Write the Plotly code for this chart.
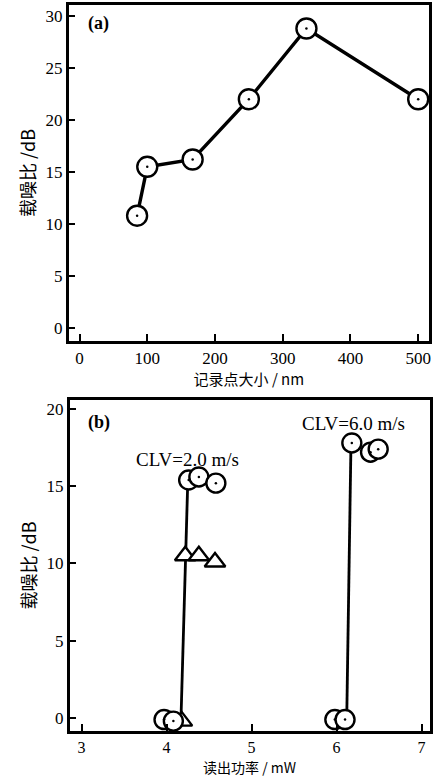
import plotly.graph_objects as go

# ---- Data: panel (a) ----
spot_size_nm = [85, 100, 167, 250, 335, 500]
cnr_a_db = [10.8, 15.5, 16.2, 22.0, 28.8, 22.0]

# ---- Data: panel (b) ----
clv2_circle_x = [3.97, 4.08, 4.26, 4.38, 4.58]
clv2_circle_y = [-0.1, -0.2, 15.4, 15.6, 15.2]
clv2_tri_x = [4.05, 4.18, 4.22, 4.38, 4.57]
clv2_tri_y = [-0.2, -0.2, 10.5, 10.5, 10.1]
clv2_line_x = [4.17, 4.22, 4.25]
clv2_line_y = [0.0, 10.0, 15.4]

clv6_circle_x = [5.98, 6.10, 6.18, 6.40, 6.49]
clv6_circle_y = [-0.1, -0.1, 17.8, 17.2, 17.4]
clv6_line_x = [6.12, 6.17]
clv6_line_y = [0.0, 17.8]

xticks_a = [0, 100, 200, 300, 400, 500]
yticks_a = [0, 5, 10, 15, 20, 25, 30]
xticks_b = [3, 4, 5, 6, 7]
yticks_b = [0, 5, 10, 15, 20]

W, H = 438, 778
SERIF = "Liberation Serif"
CJK = "Noto Sans CJK SC"

fig = go.Figure()

# panel (a)
fig.add_trace(go.Scatter(
    x=spot_size_nm, y=cnr_a_db, mode="lines+markers", xaxis="x", yaxis="y",
    line=dict(color="black", width=3.4),
    marker=dict(symbol="circle", size=20, color="white", line=dict(color="black", width=2.4)),
    showlegend=False))
fig.add_trace(go.Scatter(
    x=spot_size_nm, y=cnr_a_db, mode="markers", xaxis="x", yaxis="y",
    marker=dict(symbol="circle", size=2.5, color="black"), showlegend=False))

# panel (b)
for lx, ly in [(clv2_line_x, clv2_line_y), (clv6_line_x, clv6_line_y)]:
    fig.add_trace(go.Scatter(
        x=lx, y=ly, mode="lines", xaxis="x2", yaxis="y2",
        line=dict(color="black", width=2.8), showlegend=False))

fig.add_trace(go.Scatter(
    x=clv2_tri_x, y=clv2_tri_y, mode="markers", xaxis="x2", yaxis="y2",
    marker=dict(symbol="triangle-up", size=18, color="white", line=dict(color="black", width=2.4)),
    showlegend=False))
for cx, cy in [(clv2_circle_x, clv2_circle_y), (clv6_circle_x, clv6_circle_y)]:
    fig.add_trace(go.Scatter(
        x=cx, y=cy, mode="markers", xaxis="x2", yaxis="y2",
        marker=dict(symbol="circle", size=19, color="white", line=dict(color="black", width=2.4)),
        showlegend=False))
    fig.add_trace(go.Scatter(
        x=cx, y=cy, mode="markers", xaxis="x2", yaxis="y2",
        marker=dict(symbol="circle", size=2.5, color="black"), showlegend=False))

axis_common = dict(
    showline=True, linecolor="black", linewidth=2.5, mirror=True,
    ticks="inside", ticklen=7, tickwidth=1.5, tickcolor="black",
    showgrid=False, zeroline=False,
    tickfont=dict(family=SERIF, size=17, color="black"),
)

def px_x(p):
    return p / W

def px_y(p):
    return 1 - p / H

title_font = dict(family=CJK, size=15, color="black")

fig.update_layout(
    width=W, height=H,
    margin=dict(l=0, r=0, t=0, b=0),
    paper_bgcolor="white", plot_bgcolor="white",
    xaxis=dict(axis_common, domain=[px_x(69), px_x(431)], range=[-16, 516],
               tickvals=xticks_a, anchor="y",
               title=dict(text="记录点大小 / nm", font=title_font, standoff=3)),
    yaxis=dict(axis_common, domain=[px_y(341), px_y(5)], range=[-1.25, 31.06],
               tickvals=yticks_a, anchor="x",
               title=dict(text="载噪比 /dB", font=dict(family=CJK, size=18, color="black"), standoff=6)),
    xaxis2=dict(axis_common, domain=[px_x(70), px_x(432)], range=[2.86, 7.1],
                tickvals=xticks_b, anchor="y2",
                tickfont=dict(family=SERIF, size=16, color="black")),
    yaxis2=dict(axis_common, domain=[px_y(731), px_y(400)], range=[-0.84, 20.58],
                tickvals=yticks_b, anchor="x2",
                title=dict(text="载噪比 /dB", font=dict(family=CJK, size=18, color="black"), standoff=6)),
    annotations=[
        dict(text="读出功率 / mW", xref="paper", yref="paper", x=px_x(251), y=0,
             xanchor="center", yanchor="bottom", showarrow=False, borderpad=0,
             font=dict(family=CJK, size=14, color="black")),
        dict(text="<b>(a)</b>", xref="paper", yref="paper", x=px_x(86), y=px_y(24),
             xanchor="left", yanchor="middle", showarrow=False,
             font=dict(family=SERIF, size=18, color="black")),
        dict(text="<b>(b)</b>", xref="paper", yref="paper", x=px_x(86), y=px_y(422),
             xanchor="left", yanchor="middle", showarrow=False,
             font=dict(family=SERIF, size=18, color="black")),
        dict(text="CLV=2.0 m/s", xref="paper", yref="paper", x=px_x(188), y=px_y(460),
             xanchor="center", yanchor="middle", showarrow=False,
             font=dict(family=SERIF, size=19, color="black")),
        dict(text="CLV=6.0 m/s", xref="paper", yref="paper", x=px_x(355), y=px_y(423),
             xanchor="center", yanchor="middle", showarrow=False,
             font=dict(family=SERIF, size=19, color="black")),
    ],
)

fig.write_html("out.html", config={"displayModeBar": False},
               post_script="document.body.style.margin='0';document.body.style.overflow='hidden';")
